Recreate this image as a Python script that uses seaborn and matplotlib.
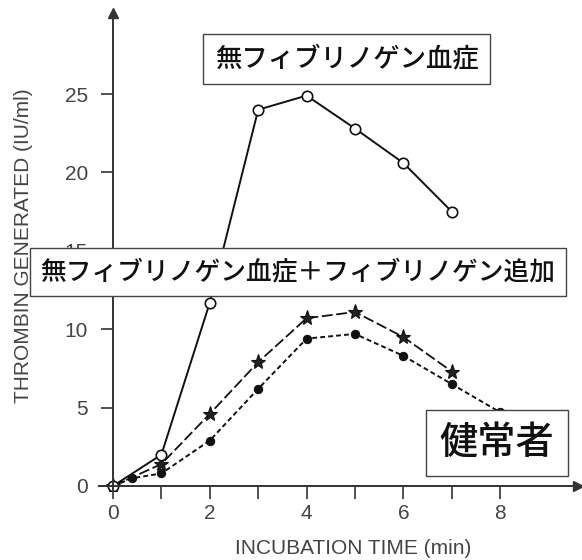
import matplotlib
matplotlib.use("Agg")
import matplotlib.pyplot as plt
import seaborn as sns
import pandas as pd

# ---- data ----
t_afib = [0, 1, 2, 3, 4, 5, 6, 7]
v_afib = [0, 2.0, 11.7, 24.0, 24.9, 22.8, 20.6, 17.5]

t_add = [0, 1, 2, 3, 4, 5, 6, 7]
v_add = [0, 1.4, 4.6, 7.9, 10.7, 11.1, 9.5, 7.3]

t_norm = [0, 0.4, 1, 2, 3, 4, 5, 6, 7, 8]
v_norm = [0, 0.5, 0.8, 2.9, 6.2, 9.4, 9.7, 8.3, 6.5, 4.7]

x_ticks = [0, 2, 4, 6, 8]
x_minor = [1, 3, 5, 7]
y_ticks = [0, 5, 10, 15, 20, 25]

label_afib = "無フィブリノゲン血症"
label_add = "無フィブリノゲン血症＋フィブリノゲン追加"
label_norm = "健常者"
xlabel = "INCUBATION TIME (min)"
ylabel = "THROMBIN GENERATED (IU/ml)"

sns.set_style("white")
plt.rcParams['font.family'] = ['Liberation Sans', 'Noto Sans CJK JP', 'DejaVu Sans']

W, H = 582, 560
fig = plt.figure(figsize=(W / 100, H / 100), dpi=100)
ax = fig.add_axes([98.5 / W, 1 - 490.7 / H, (577.6 - 98.5) / W, (490.7 - 12.5) / H])
ax.set_facecolor('white')

df1 = pd.DataFrame({"t": t_afib, "v": v_afib})
df2 = pd.DataFrame({"t": t_add, "v": v_add})
df3 = pd.DataFrame({"t": t_norm, "v": v_norm})

sns.lineplot(data=df3, x="t", y="v", ax=ax, color='#111111', lw=1.4,
             marker='o', markersize=6, markerfacecolor='#111111', markeredgecolor='#111111')
ax.lines[-1].set_dashes((2.5, 1.6))
sns.lineplot(data=df2, x="t", y="v", ax=ax, color='#111111', lw=1.3,
             marker='*', markersize=11, markerfacecolor='#222222', markeredgecolor='#111111',
             markeredgewidth=0.8)
ax.lines[-1].set_dashes((6, 2))
sns.lineplot(data=df1, x="t", y="v", ax=ax, color='#111111', lw=1.4,
             marker='o', markersize=7.5, markerfacecolor='white', markeredgecolor='#111111',
             markeredgewidth=1.2)

ax.set_xlim(-0.3, 9.6)
ax.set_ylim(-0.3, 30.2)

for s in ['top', 'right']:
    ax.spines[s].set_visible(False)
for s in ['left', 'bottom']:
    ax.spines[s].set_position(('data', 0))
    ax.spines[s].set_color('#333333')
    ax.spines[s].set_linewidth(1.4)

ax.plot(1, 0, marker='>', color='#333333', markersize=7, transform=ax.get_yaxis_transform(), clip_on=False)
ax.plot(0, 1, marker='^', color='#333333', markersize=7, transform=ax.get_xaxis_transform(), clip_on=False)

ax.set_xticks(x_ticks)
ax.set_xticks(x_minor, minor=True)
ax.set_yticks(y_ticks)
ax.tick_params(axis='both', which='both', direction='out', length=9, width=1.2, color='#333333',
               labelsize=15, labelcolor='#444444', pad=4)
ax.tick_params(axis='y', pad=9)
ax.tick_params(axis='x', which='both', bottom=True)
ax.tick_params(axis='y', which='both', left=True)
ax.set_xlabel("")
ax.set_ylabel("")

fig.text(353 / W, 1 - 548 / H, xlabel, ha='center', va='center', fontsize=15, color='#444444')
fig.text(23.5 / W, 1 - 245.5 / H, ylabel, ha='center', va='center', rotation=90, fontsize=15, color='#444444')

jp = ['Noto Sans CJK JP', 'DejaVu Sans']
fig.text(346.5 / W, 1 - 59 / H, label_afib, ha='center', va='center', fontsize=19, family=jp, color='#111111',
         fontweight='medium',
         bbox=dict(boxstyle='square,pad=0.45', facecolor='white', edgecolor='#444444', linewidth=1.0), zorder=10)
fig.text(298 / W, 1 - 272 / H, label_add, ha='center', va='center', fontsize=18.5, family=jp, color='#111111',
         fontweight='medium',
         bbox=dict(boxstyle='square,pad=0.42', facecolor='white', edgecolor='#444444', linewidth=1.0), zorder=10)
fig.text(497 / W, 1 - 443 / H, label_norm, ha='center', va='center', fontsize=27.5, family=jp, color='#111111',
         fontweight='medium',
         bbox=dict(boxstyle='square,pad=0.35', facecolor='white', edgecolor='#444444', linewidth=1.0), zorder=10)

fig.savefig("out.png", dpi=100)
